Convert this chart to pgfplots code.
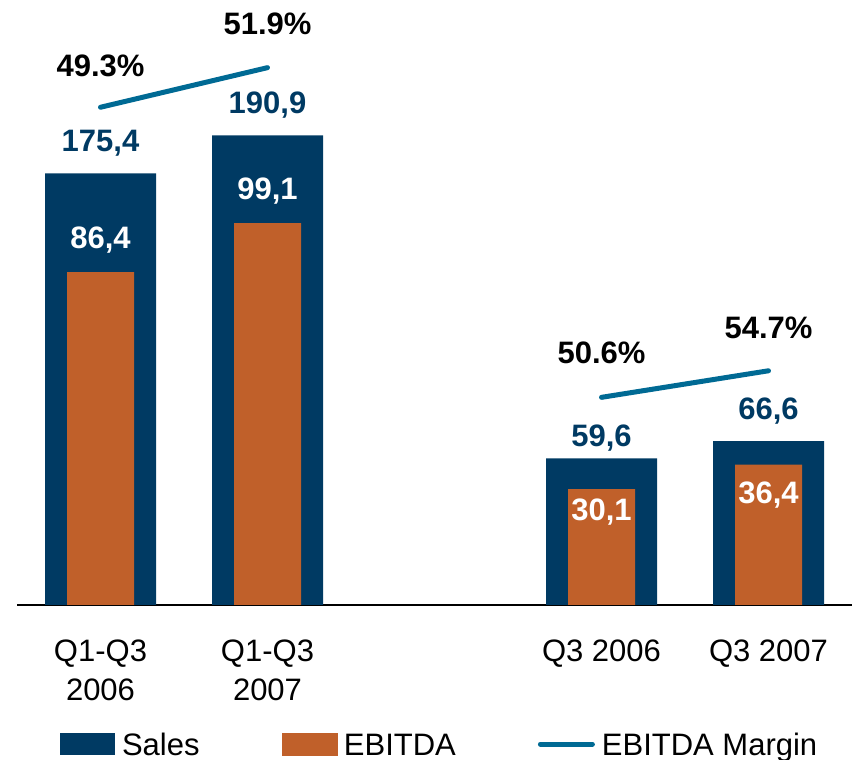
\documentclass[border=0pt]{standalone}
\usepackage{pgfplots}
\pgfplotsset{compat=1.18}
\usepackage{pgfplotstable}
\usepackage{fontspec}
\setmainfont{Liberation Sans}
\definecolor{sales}{HTML}{003A63}
\definecolor{ebitda}{HTML}{C0602A}
\definecolor{margin}{HTML}{006A94}

\pgfplotstableread{
x y off label
0 175.4 30.5 {175,4}
1 190.9 30 {190,9}
3 59.6 20.5 {59,6}
4 66.6 30.5 {66,6}
}\salesdata

\pgfplotstableread{
x y off label
0 86.4 31.5 {86,4}
1 99.1 32 {99,1}
3 30.1 -23 {30,1}
4 36.4 -30.5 {36,4}
}\ebitdadata

% margin line drawn at its position in the picture (sales-axis units), labelled with the margin
\pgfplotstableread{
x y off label
0 202.3 41 {49.3\%}
1 218.4 44 {51.9\%}
}\marginA
\pgfplotstableread{
x y off label
3 84.4 45 {50.6\%}
4 95.2 43 {54.7\%}
}\marginB

\pgfplotsset{
  common/.style={
    at={(17pt,155pt)}, anchor=south west,
    scale only axis, width=835pt, height=605pt,
    xmin=-0.5, xmax=4.5, ymin=0, clip=false,
  },
  lbl/.style={
    nodes near coords, point meta=explicit symbolic,
    visualization depends on={\thisrow{off} \as \myoff},
    every node near coord/.append style={anchor=center, yshift=\myoff*1pt, inner sep=0pt,
      font=\fontsize{31}{36}\selectfont\bfseries},
  },
}

\begin{document}
\begin{tikzpicture}[x=1pt,y=1pt]
\path[use as bounding box] (0,0) rectangle (852,760);
\begin{axis}[common, ymax=245.9,
  axis x line=bottom, axis y line=none,
  axis line style={-, black, line width=1.3pt},
  xtick={0,1,3,4}, major tick length=0pt,
  xticklabels={{Q1-Q3\\2006},{Q1-Q3\\2007},{Q3 2006},{Q3 2007}},
  xticklabel style={align=center, anchor=north, inner sep=0pt, yshift=-35pt,
    font=\fontsize{31}{39}\selectfont},
  legend columns=3,
  legend style={at={(axis description cs:0.0515,-0.2314)}, anchor=west,
    draw=none, fill=none, inner sep=0pt, outer sep=0pt,
    font=\fontsize{31}{36}\selectfont,
    nodes={inner xsep=7pt, inner ysep=0pt},
    /tikz/every even column/.append style={column sep=75pt}},
]
\addplot[ybar, bar width=111pt, bar shift=0pt, fill=sales, draw=none, lbl,
  every node near coord/.append style={text=sales},
  legend image code/.code={\fill[sales] (0pt,-10pt) rectangle (55pt,12pt);}]
  table[x=x, y=y, meta=label] {\salesdata};
\addlegendentry{Sales}
\addlegendimage{legend image code/.code={\fill[ebitda] (0pt,-10pt) rectangle (55pt,12pt);}}
\addlegendentry{EBITDA}
\addlegendimage{legend image code/.code={\draw[margin, line width=5pt, line cap=round] (3pt,1pt) -- (55pt,1pt);}}
\addlegendentry{EBITDA Margin}
\addplot[margin, line width=5pt, line cap=round, mark=none, forget plot, lbl,
  every node near coord/.append style={text=black}]
  table[x=x, y=y, meta=label] {\marginA};
\addplot[margin, line width=5pt, line cap=round, mark=none, forget plot, lbl,
  every node near coord/.append style={text=black}]
  table[x=x, y=y, meta=label] {\marginB};
\end{axis}
\begin{axis}[common, ymax=157, hide axis]
\addplot[ybar, bar width=67pt, bar shift=0pt, fill=ebitda, draw=none, lbl,
  every node near coord/.append style={text=white}]
  table[x=x, y=y, meta=label] {\ebitdadata};
\end{axis}
\end{tikzpicture}
\end{document}
